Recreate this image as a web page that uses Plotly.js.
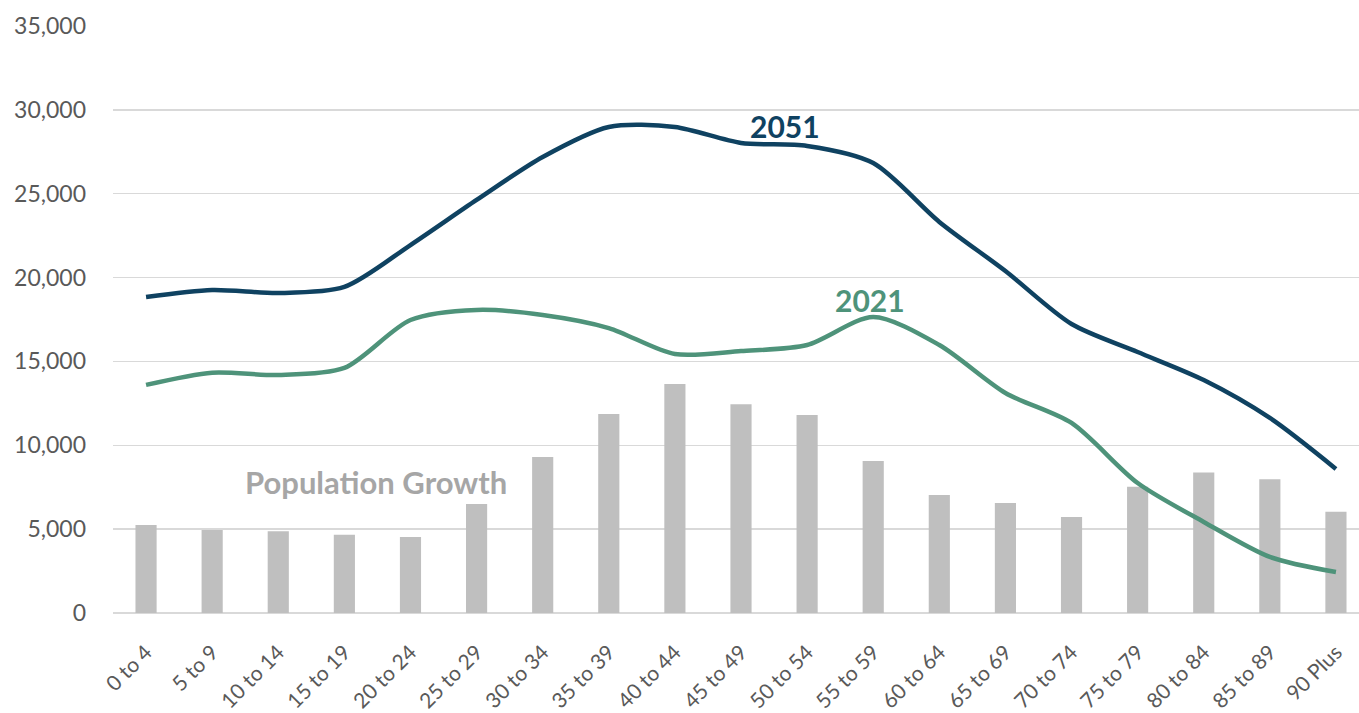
<!DOCTYPE html>
<html>
<head>
<meta charset="utf-8">
<script src="https://cdn.plot.ly/plotly-3.0.1.min.js"></script>
<style>
html,body{margin:0;padding:0;overflow:hidden;background:#fff;}
#chart{width:1369px;height:713px;}
</style>
</head>
<body>
<div id="chart"></div>
<script>
const ageGroups = ["0 to 4","5 to 9","10 to 14","15 to 19","20 to 24","25 to 29","30 to 34","35 to 39","40 to 44","45 to 49","50 to 54","55 to 59","60 to 64","65 to 69","70 to 74","75 to 79","80 to 84","85 to 89","90 Plus"];
const growth = [5250,4950,4870,4670,4530,6500,9300,11870,13650,12440,11800,9060,7040,6560,5720,7530,8370,7970,6040];
const pop2051 = [18840,19260,19080,19440,21940,24630,27190,28980,28980,28030,27850,26830,23320,20390,17230,15560,13890,11630,8590];
const pop2021 = [13600,14330,14190,14610,17470,18070,17770,16990,15440,15620,15980,17650,15980,13120,11330,7750,5430,3340,2440];
const yTicks = [0,5000,10000,15000,20000,25000,30000,35000];
const yTickText = ["0","5,000","10,000","15,000","20,000","25,000","30,000","35,000"];

const font = "Lato, 'Open Sans', sans-serif";

const traces = [
  {type:'bar', x:ageGroups, y:growth, name:'Population Growth',
   marker:{color:'#bfbfbf'}, width:0.32, hoverinfo:'x+y'},
  {type:'scatter', mode:'lines', x:ageGroups, y:pop2051, name:'2051',
   line:{color:'#0f4261', width:4.5, shape:'spline', smoothing:0.8}},
  {type:'scatter', mode:'lines', x:ageGroups, y:pop2021, name:'2021',
   line:{color:'#4e937a', width:4.5, shape:'spline', smoothing:0.8}}
];

const layout = {
  width:1369, height:713,
  margin:{l:113, r:0, t:26, b:100},
  paper_bgcolor:'#ffffff', plot_bgcolor:'#ffffff',
  showlegend:false,
  font:{family:font, color:'#595959'},
  xaxis:{type:'category', range:[-0.5,18.5], tickangle:-45,
    tickfont:{size:21, color:'#595959', family:font},
    showgrid:false, zeroline:false, showline:false, ticks:'', ticklabelstandoff:22},
  yaxis:{range:[0,35000], tickvals:yTicks, ticktext:yTickText,
    tickfont:{size:23, color:'#595959', family:font},
    showgrid:true, gridcolor:'#d9d9d9', gridwidth:1.5,
    zeroline:true, zerolinecolor:'#d9d9d9', zerolinewidth:1.5,
    showline:false, ticks:'', ticklabelstandoff:26},
  annotations:[
    {x:9.67, y:29040, xref:'x', yref:'y', text:'<b>2051</b>', showarrow:false,
     font:{family:font, size:30, color:'#0f4261'}},
    {x:10.95, y:18660, xref:'x', yref:'y', text:'<b>2021</b>', showarrow:false,
     font:{family:font, size:30, color:'#4e937a'}},
    {x:3.48, y:7810, xref:'x', yref:'y', text:'<b>Population Growth</b>', showarrow:false,
     font:{family:font, size:31, color:'#a6a6a6'}}
  ]
};

Plotly.newPlot('chart', traces, layout, {displayModeBar:false, staticPlot:true});
</script>
</body>
</html>
